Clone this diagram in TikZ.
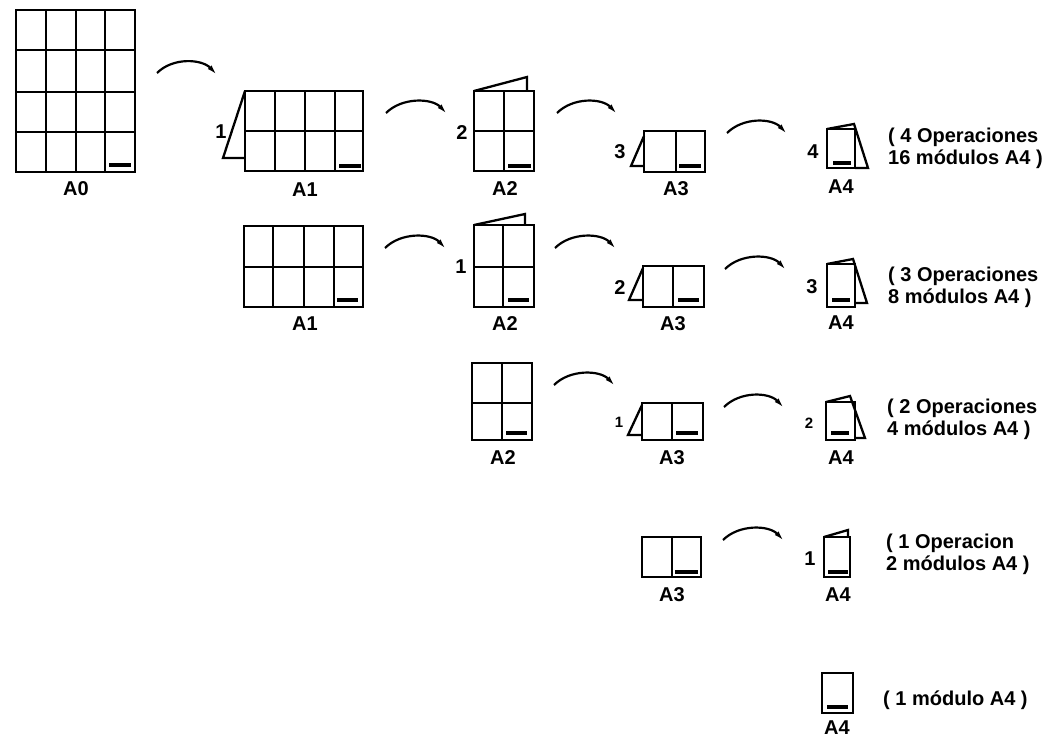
\documentclass[tikz,border=0pt]{standalone}
\usepackage{fontspec}
\setmainfont{Liberation Sans}
\usetikzlibrary{arrows.meta,calc}
\tikzset{
  sheet/.style={line width=2.3pt, line join=miter},
  bar/.style={line width=3.6pt},
  lbl/.style={font=\bfseries\fontsize{20}{22}\selectfont, inner sep=0pt},
  num/.style={font=\bfseries\fontsize{20}{22}\selectfont, inner sep=0pt},
  smallnum/.style={font=\bfseries\fontsize{15}{16}\selectfont, inner sep=0pt},
  desc/.style={font=\bfseries\fontsize{20}{22}\selectfont, inner sep=0pt, anchor=west, align=left},
  foldarrow/.style={line width=2.2pt, -{Latex[length=12pt,width=5pt]}},
}
\newcommand{\fold}[2]{\draw[foldarrow] (#1) .. controls ($(#1)+(16,-16)$) and ($(#2)+(-16,-17)$) .. (#2);}
\begin{document}
\begin{tikzpicture}[x=1pt,y=-1pt]
\useasboundingbox (0,0) rectangle (1049,738);

% ---------------- Row 1 ----------------
% A0
\draw[sheet] (16,10) rectangle (135,172);
\draw[sheet] (46,10) -- (46,172) (76,10) -- (76,172) (105,10) -- (105,172);
\draw[sheet] (16,50) -- (135,50) (16,92) -- (135,92) (16,132) -- (135,132);
\draw[bar] (109,165) -- (131,165);
\node[lbl] (lA0) at (76,189) {A0};

\coordinate (r1a1s) at (157,73);
\coordinate (r1a1e) at (218,76);
\fold{r1a1s}{r1a1e}

% A1 with flap
\draw[sheet] (245,91) rectangle (363,171);
\draw[sheet] (275,91) -- (275,171) (305,91) -- (305,171) (335,91) -- (335,171);
\draw[sheet] (245,131) -- (363,131);
\draw[sheet] (245,91) -- (223,158) -- (245,158);
\draw[bar] (339,166) -- (361,166);
\node[num] (n11) at (221,132) {1};
\node[lbl] (lA1a) at (305,190) {A1};

\coordinate (r1a2s) at (386,113);
\coordinate (r1a2e) at (448,115);
\fold{r1a2s}{r1a2e}

% A2 with flap
\draw[sheet] (474,91) rectangle (534,171);
\draw[sheet] (504,91) -- (504,171) (474,131) -- (534,131);
\draw[sheet] (474,91) -- (527,77) -- (527,91);
\draw[bar] (508,166) -- (531,166);
\node[num] (n12) at (462,133) {2};
\node[lbl] (lA2a) at (505,189) {A2};

\coordinate (r1a3s) at (557,113);
\coordinate (r1a3e) at (618,115);
\fold{r1a3s}{r1a3e}

% A3 with flap
\draw[sheet] (644,131) rectangle (705,172);
\draw[sheet] (676,131) -- (676,172);
\draw[sheet] (644,136) -- (631,166) -- (644,166);
\draw[bar] (679,166) -- (701,166);
\node[num] (n13) at (620,152) {3};
\node[lbl] (lA3a) at (676,189) {A3};

\coordinate (r1a4s) at (727,133);
\coordinate (r1a4e) at (788,135);
\fold{r1a4s}{r1a4e}

% A4 folded
\draw[sheet] (827,129) rectangle (855,168);
\draw[sheet] (827,129) -- (854,124) -- (868,168) -- (855,168);
\draw[bar] (833,163) -- (851,163);
\node[num] (n14) at (813,152) {4};
\node[lbl] (lA4a) at (841,187) {A4};
\node[desc] (d1) at (888,148) {( 4 Operaciones\\16 módulos A4 )};

% ---------------- Row 2 ----------------
\draw[sheet] (244,226) rectangle (363,307);
\draw[sheet] (273,226) -- (273,307) (304,226) -- (304,307) (334,226) -- (334,307);
\draw[sheet] (244,267) -- (363,267);
\draw[bar] (337,300) -- (358,300);
\node[lbl] (lA1b) at (305,324) {A1};

\coordinate (r2a1s) at (385,248);
\coordinate (r2a1e) at (447,250);
\fold{r2a1s}{r2a1e}

\draw[sheet] (474,225) rectangle (534,307);
\draw[sheet] (503,225) -- (503,307) (474,267) -- (534,267);
\draw[sheet] (474,225) -- (525,214) -- (525,225);
\draw[bar] (508,300) -- (529,300);
\node[num] (n21) at (461,267) {1};
\node[lbl] (lA2b) at (505,324) {A2};

\coordinate (r2a2s) at (555,248);
\coordinate (r2a2e) at (617,250);
\fold{r2a2s}{r2a2e}

\draw[sheet] (643,266) rectangle (704,307);
\draw[sheet] (673,266) -- (673,307);
\draw[sheet] (643,268) -- (629,300) -- (643,300);
\draw[bar] (678,300) -- (699,300);
\node[num] (n22) at (620,288) {2};
\node[lbl] (lA3b) at (673,324) {A3};

\coordinate (r2a3s) at (725,269);
\coordinate (r2a3e) at (787,271);
\fold{r2a3s}{r2a3e}

\draw[sheet] (827,264) rectangle (855,307);
\draw[sheet] (827,264) -- (853,259) -- (867,303) -- (855,303);
\draw[bar] (832,300) -- (850,300);
\node[num] (n23) at (812,287) {3};
\node[lbl] (lA4b) at (841,323) {A4};
\node[desc] (d2) at (888,287) {( 3 Operaciones\\8 módulos A4 )};

% ---------------- Row 3 ----------------
\draw[sheet] (472,363) rectangle (532,440);
\draw[sheet] (502,363) -- (502,440) (472,403) -- (532,403);
\draw[bar] (506,433) -- (527,433);
\node[lbl] (lA2c) at (503,458) {A2};

\coordinate (r3a1s) at (554,385);
\coordinate (r3a1e) at (616,387);
\fold{r3a1s}{r3a1e}

\draw[sheet] (642,403) rectangle (703,440);
\draw[sheet] (672,403) -- (672,440);
\draw[sheet] (642,405) -- (628,435) -- (642,435);
\draw[bar] (676,433) -- (698,433);
\node[smallnum] (n31) at (619,422) {1};
\node[lbl] (lA3c) at (672,458) {A3};

\coordinate (r3a2s) at (724,407);
\coordinate (r3a2e) at (785,409);
\fold{r3a2s}{r3a2e}

\draw[sheet] (826,402) rectangle (855,440);
\draw[sheet] (826,402) -- (850,396) -- (865,438) -- (855,438);
\draw[bar] (831,433) -- (849,433);
\node[smallnum] (n32) at (809,423) {2};
\node[lbl] (lA4c) at (841,458) {A4};
\node[desc] (d3) at (887,419) {( 2 Operaciones\\4 módulos A4 )};

% ---------------- Row 4 ----------------
\draw[sheet] (642,537) rectangle (701,577);
\draw[sheet] (672,537) -- (672,577);
\draw[bar] (675,572) -- (698,572);
\node[lbl] (lA3d) at (672,595) {A3};

\coordinate (r4a1s) at (723,540);
\coordinate (r4a1e) at (785,542);
\fold{r4a1s}{r4a1e}

\draw[sheet] (824,537) rectangle (850,577);
\draw[sheet] (824,537) -- (848,530) -- (848,537);
\draw[bar] (828,572) -- (848,572);
\node[num] (n41) at (810,559) {1};
\node[lbl] (lA4d) at (838,595) {A4};
\node[desc] (d4) at (886,554) {( 1 Operacion\\2 módulos A4 )};

% ---------------- Row 5 ----------------
\draw[sheet] (822,673) rectangle (853,713);
\draw[bar] (827,707) -- (848,707);
\node[lbl] (lA4e) at (837,728) {A4};
\node[desc] (d5) at (883,700) {( 1 módulo A4 )};
\end{tikzpicture}
\end{document}
